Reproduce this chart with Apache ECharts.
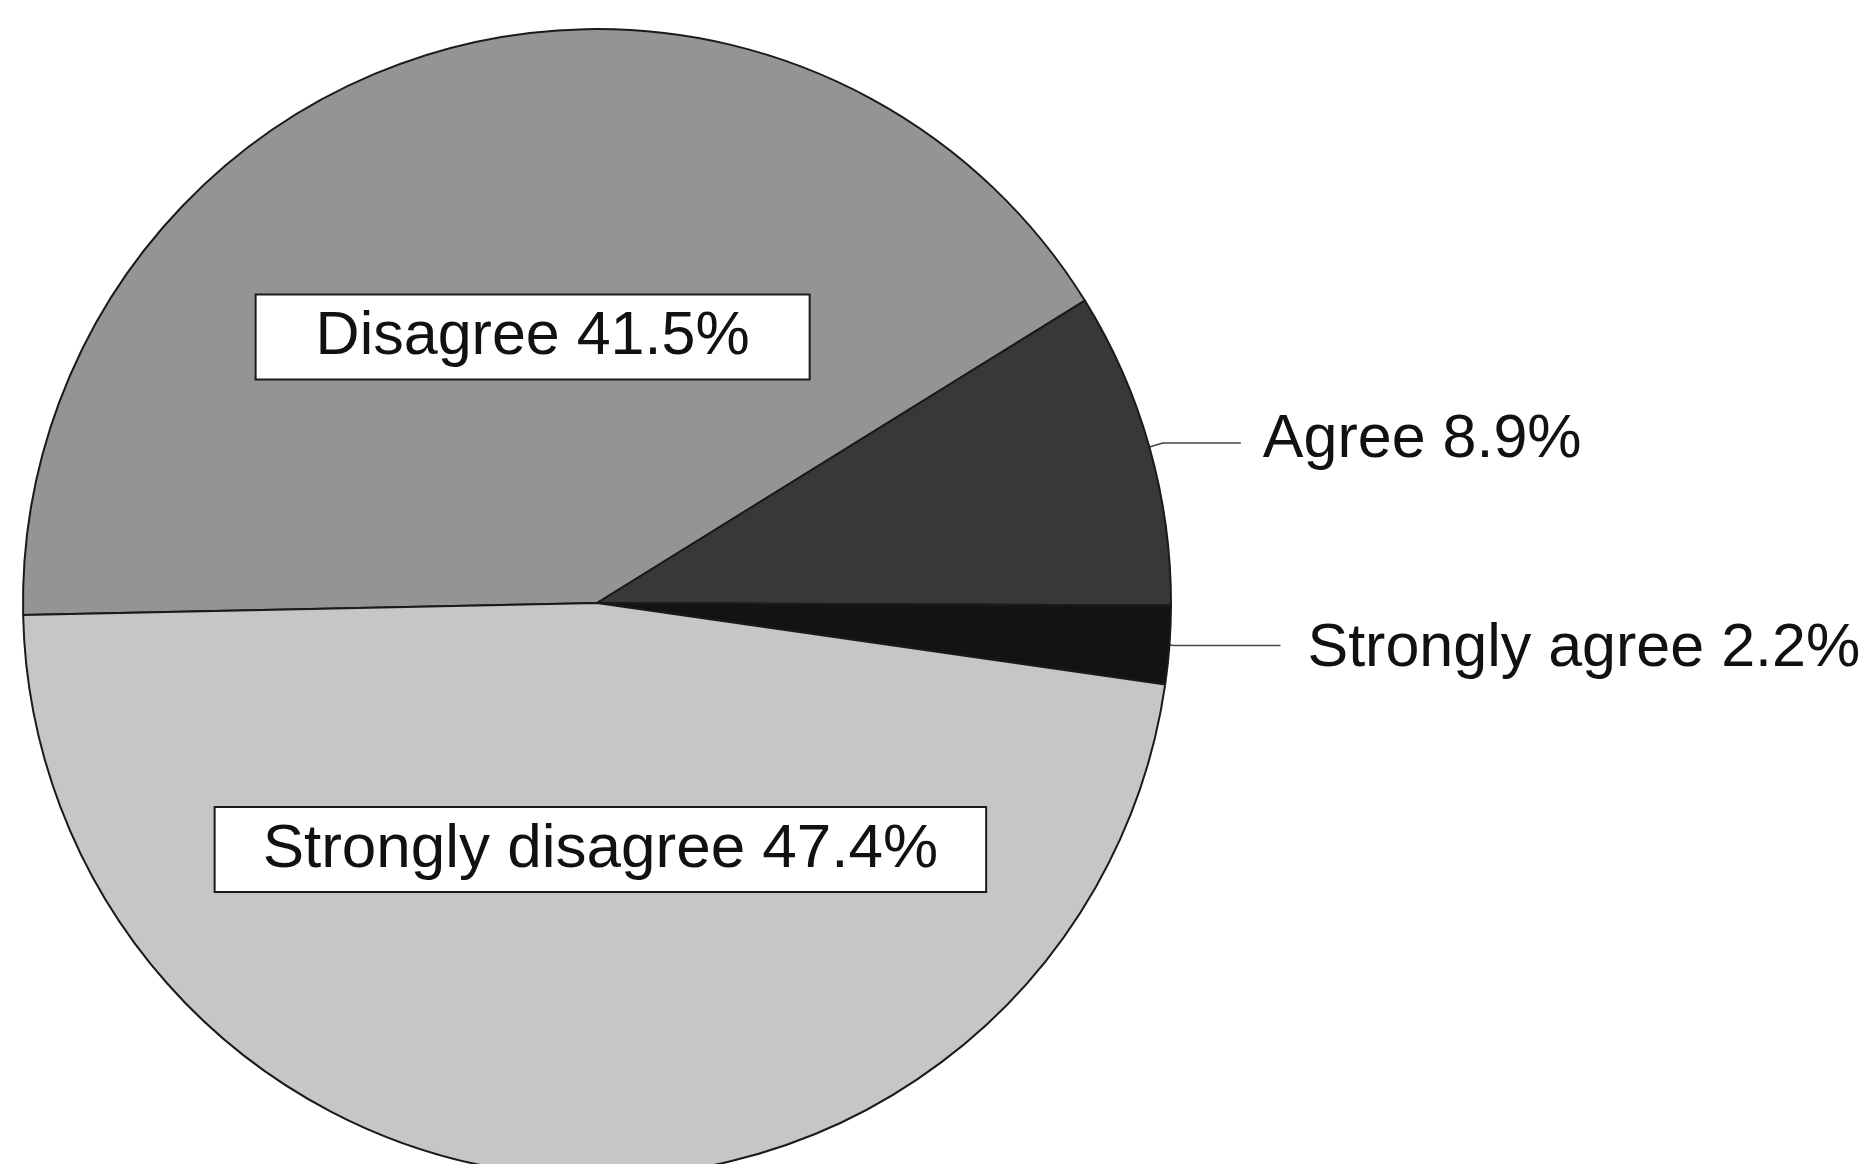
<!DOCTYPE html>
<html><head><meta charset="utf-8">
<script src="https://cdn.jsdelivr.net/npm/echarts@6/dist/echarts.min.js"></script>
<style>html,body{margin:0;padding:0;background:#fff}#chart{width:1874px;height:1164px}</style>
</head><body><div id="chart"></div>
<script>
// ---- data ----
const categories = ['Disagree', 'Agree', 'Strongly agree', 'Strongly disagree'];
const values = [41.5, 8.9, 2.2, 47.4];

// ---- styles (kept apart from data) ----
const sliceColors = ['#949494', '#383838', '#131313', '#c6c6c6'];
const insideLabel = [true, false, false, true];
const boxPadding = [[11, 59], null, null, [11, 47]];
const lineLengths = [null, [14, 78], [5, 106], null];
const lineGap = [0, 22, 27, 0];
const labelNudge = [[18, 12], [0, -3], [0, 4], [21, -43]];
const fontSizes = [61, 61, 61, 62];

const FONT = '"Liberation Sans", Arial, Helvetica, sans-serif';

const data = categories.map((name, i) => {
  const item = {
    name: name,
    value: values[i],
    itemStyle: { color: sliceColors[i] }
  };
  if (insideLabel[i]) {
    item.label = {
      position: 'inside',
      backgroundColor: '#ffffff',
      borderColor: '#1a1a1a',
      borderWidth: 2,
      padding: boxPadding[i],
      fontSize: fontSizes[i]
    };
    item.labelLine = { show: false };
  } else {
    item.label = { position: 'outside', distanceToLabelLine: lineGap[i], fontSize: fontSizes[i] };
    item.labelLine = {
      show: true,
      length: lineLengths[i][0],
      length2: lineLengths[i][1],
      lineStyle: { color: '#444', width: 1.5 }
    };
  }
  return item;
});

const chart = echarts.init(document.getElementById('chart'), null, { renderer: 'canvas' });
chart.setOption({
  backgroundColor: '#ffffff',
  animation: false,
  series: [{
    type: 'pie',
    center: [597, 603],
    radius: 574,
    startAngle: 181.2,
    clockwise: true,
    avoidLabelOverlap: false,
    silent: true,
    itemStyle: { borderColor: '#1a1a1a', borderWidth: 2 },
    label: {
      show: true,
      color: '#111',
      fontFamily: FONT,
      fontSize: 61,
      lineHeight: 61,
      formatter: p => p.name + ' ' + p.value + '%'
    },
    labelLayout: function (params) {
      const n = labelNudge[params.dataIndex];
      return { dx: n[0], dy: n[1] };
    },
    emphasis: { disabled: true },
    data: data
  }]
});
</script>
</body></html>
